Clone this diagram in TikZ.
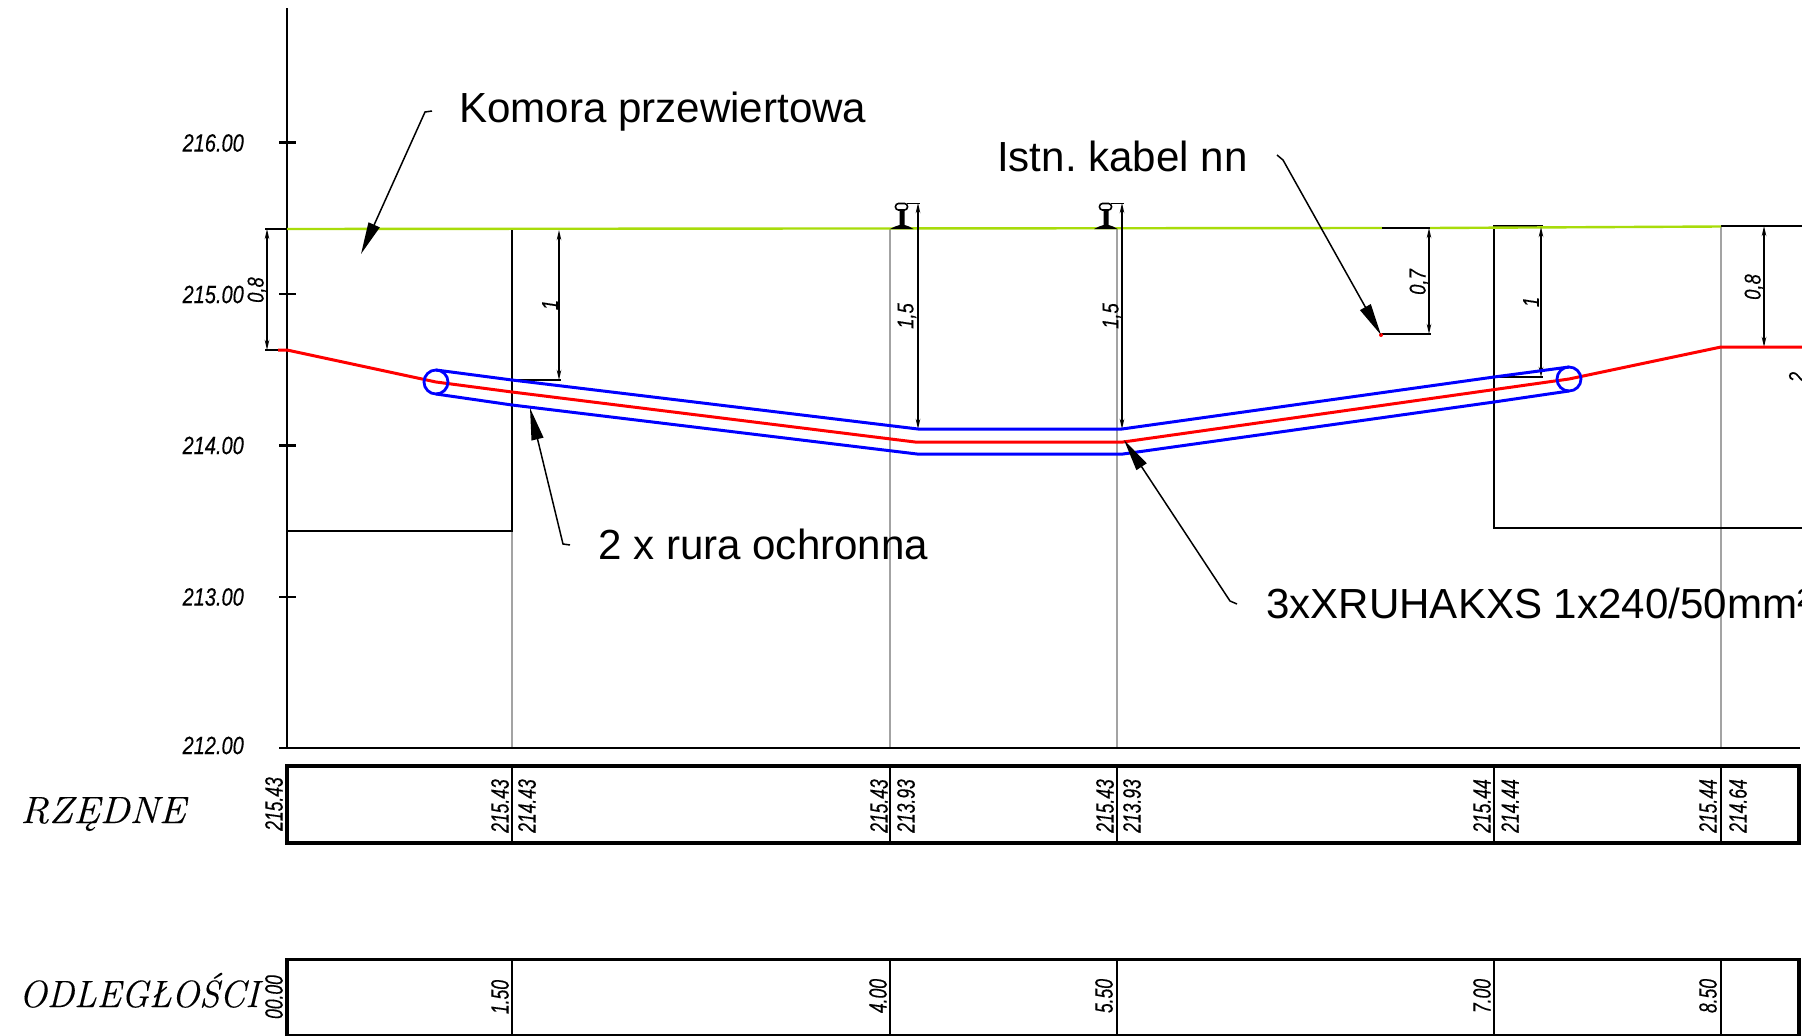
\documentclass[tikz,border=0pt]{standalone}
\usepackage{fontspec}
\setmainfont{Liberation Sans}
\newfontfamily\cadfont[FakeStretch=0.7,FakeBold=0.25]{Liberation Sans}
\newfontfamily\cadwide[FakeStretch=0.8,FakeBold=0.25]{Liberation Sans}
\newfontfamily\titlefont[FakeBold=0.2]{Latin Modern Roman}
\usetikzlibrary{arrows.meta}
\definecolor{grnd}{HTML}{A8DC0A}
\definecolor{gridg}{HTML}{A3A3A3}
\tikzset{
  thinb/.style={draw=black,line width=1.6pt},
  axisl/.style={draw=black,line width=2.6pt},
  frame/.style={draw=black,line width=3.5pt,line join=miter},
  gridl/.style={draw=gridg,line width=2.5pt},
  bluel/.style={draw=blue,line width=3pt,line join=round},
  redl/.style={draw=red,line width=3pt,line join=round},
  grndl/.style={draw=grnd,line width=2.4pt},
  dimline/.style={draw=black,line width=1.6pt,{Stealth[length=10pt,width=4.5pt]}-{Stealth[length=10pt,width=4.5pt]}},
  leader/.style={draw=black,line width=1.5pt,-{Stealth[length=32pt,width=12pt,inset=0pt]}},
  lab/.style={font=\fontsize{42.1}{46}\selectfont,anchor=base west,inner sep=0pt},
  axlab/.style={font=\cadwide\itshape\fontsize{25}{27}\selectfont,anchor=east,inner sep=0pt},
  vlab/.style={font=\cadfont\itshape\fontsize{25}{27}\selectfont,rotate=90,inner sep=0pt},
  dimlab/.style={font=\cadwide\itshape\fontsize{23}{26}\selectfont,rotate=90,inner sep=0pt},
  rowlab/.style={font=\titlefont\itshape\fontsize{38}{40}\selectfont,anchor=base west,inner sep=0pt},
}
\newcommand{\railsym}[1]{%
  \begin{scope}[shift={(#1,0)}]
    \fill[black] (-12,229) -- (11.5,229) -- (7,226.5) -- (2.5,225) -- (2.5,211) -- (-2.5,211) -- (-2.5,225) -- (-7,226.5) -- cycle;
    \draw[black,line width=1.6pt,rounded corners=3pt] (-6.5,203.5) -- (5.5,203.5) -- (5.5,210) -- (-6.5,210) -- cycle;
  \end{scope}}
\frenchspacing
\begin{document}
\begin{tikzpicture}[x=1pt,y=-1pt]
\clip (0,0) rectangle (1802,1036);
\fill[white] (0,0) rectangle (1802,1036);

% grid lines
\draw[gridl] (512,531) -- (512,748);
\draw[gridl] (890,229) -- (890,748);
\draw[gridl] (1117,229) -- (1117,748);
\draw[gridl] (1721,226) -- (1721,748);

% axis
\draw[axisl] (287,8) -- (287,748);
\draw[axisl] (279,748) -- (1800,748);
\foreach \yy in {142.5,294,445.5,597}{\draw[axisl] (279,\yy) -- (296,\yy);}
\node[axlab] (a216) at (244,143) {216.00};
\node[axlab] (a215) at (244,294.5) {215.00};
\node[axlab] (a214) at (244,445.5) {214.00};
\node[axlab] (a213) at (244,597) {213.00};
\node[axlab] (a212) at (244,745.5) {212.00};

% chambers
\draw[axisl] (287,531) -- (512,531) -- (512,229);
\draw[axisl] (1802,528) -- (1494,528) -- (1494,226) -- (1543,226);
\draw[axisl] (1721,226) -- (1802,226);

% ground
\draw[grndl] (287,229) -- (1382,228);
\draw[grndl] (1430,228) -- (1721,226.5);
\draw[axisl] (1382,228) -- (1430,228);

% dimension helpers
\draw[axisl] (265,229) -- (287,229);
\draw[axisl] (265,350) -- (287,350);
\draw[thinb] (512,380) -- (561,380);
\draw[thinb] (1494,377) -- (1543,377);
\draw[thinb] (1382,334) -- (1431,334);
\draw[thinb] (907,203.5) -- (920,203.5);
\draw[thinb] (1111,203.5) -- (1124,203.5);

% dimensions
\draw[dimline] (267,229) -- (267,350);
\node[dimlab] (d1) at (257,290) {0,8};
\draw[dimline] (559,230) -- (559,380);
\node[dimlab] (d2) at (550,305) {1};
\draw[dimline] (918,203) -- (918,429);
\node[dimlab] (d3) at (907,316) {1,5};
\draw[dimline] (1122,203) -- (1122,429);
\node[dimlab] (d4) at (1112,316) {1,5};
\draw[dimline] (1429,228) -- (1429,334);
\node[dimlab] (d5) at (1419,282) {0,7};
\draw[dimline] (1541,227) -- (1541,377);
\node[dimlab] (d6) at (1531,302) {1};
\draw[dimline] (1764,226) -- (1764,347);
\node[dimlab] (d7) at (1754,287) {0,8};
\node[dimlab] (d8) at (1797,377) {2};

% rails
\railsym{902}
\railsym{1106}

% pipes
\draw[bluel] (436,370) -- (512,380) -- (918,429) -- (1122,429) -- (1494,377) -- (1569,367);
\draw[bluel] (436,394) -- (512,405) -- (917,454) -- (1123,454) -- (1494,402) -- (1569,391);
\draw[redl] (278,350) -- (287,350) -- (436,382) -- (512,392) -- (915,442) -- (1123,442) -- (1569,379) -- (1721,347) -- (1802,347);
\draw[blue,line width=2.8pt] (436,382) circle[radius=12];
\draw[blue,line width=2.8pt] (1569,379) circle[radius=12];
\fill[red] (1381,335) circle[radius=2];

% labels and leaders
\node[lab] (komora) at (459,122) {Komora przewiertowa};
\coordinate (k1) at (432,111);
\coordinate (k2) at (425,112);
\coordinate (k3) at (361,254);
\draw[leader] (k1) -- (k2) -- (k3);
\node[lab] (istn) at (997,171) {Istn. kabel nn};
\coordinate (i1) at (1277,155);
\coordinate (i2) at (1283,160);
\coordinate (i3) at (1381,335);
\draw[leader] (i1) -- (i2) -- (i3);
\node[lab] (rura) at (598,559) {2 x rura ochronna};
\coordinate (r1) at (570,545);
\coordinate (r2) at (563,544);
\coordinate (r3) at (530,408);
\draw[leader] (r1) -- (r2) -- (r3);
\node[lab] (kabel) at (1266,618) {3xXRUHAKXS 1x240/50mm²};
\coordinate (x1) at (1237,604);
\coordinate (x2) at (1230,601);
\coordinate (x3) at (1124,440);
\draw[leader] (x1) -- (x2) -- (x3);

% tables
\foreach \xx in {512,890,1117,1494,1721}{
  \draw[thinb] (\xx,765) -- (\xx,843);
  \draw[thinb] (\xx,958) -- (\xx,1036);
}
\draw[frame] (287,766) rectangle (1799,843);
\draw[frame] (287,959.5) rectangle (1799,1050);
\draw[thinb] (287,1035) -- (1799,1035);

\node[rowlab] (rz) at (20,823) {\scalebox{1.06}[1]{RZĘDNE}};
\node[rowlab] (od) at (19,1007) {\scalebox{0.97}[1]{ODLEGŁOŚCI}};

\node[vlab] (t1) at (274,804) {215.43};
\node[vlab] (t2) at (500,806) {215.43};
\node[vlab] (t3) at (527,806) {214.43};
\node[vlab] (t4) at (879,806) {215.43};
\node[vlab] (t5) at (906,806) {213.93};
\node[vlab] (t6) at (1105,806) {215.43};
\node[vlab] (t7) at (1132,806) {213.93};
\node[vlab] (t8) at (1482,806) {215.44};
\node[vlab] (t9) at (1510,806) {214.44};
\node[vlab] (t10) at (1708,806) {215.44};
\node[vlab] (t11) at (1738,806) {214.64};

\node[vlab] (u1) at (274,997) {00.00};
\node[vlab] (u2) at (500,997) {1.50};
\node[vlab] (u3) at (878,996) {4.00};
\node[vlab] (u4) at (1104,996) {5.50};
\node[vlab] (u5) at (1482,996) {7.00};
\node[vlab] (u6) at (1708,996) {8.50};
\end{tikzpicture}
\end{document}
